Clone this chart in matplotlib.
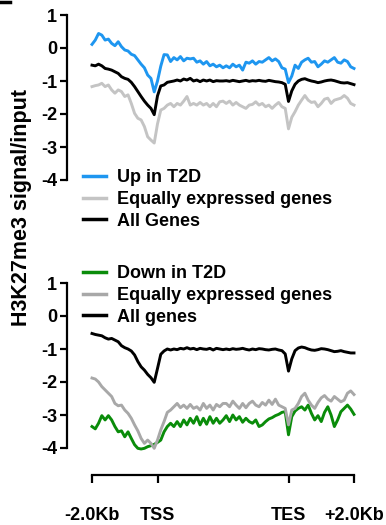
import numpy as np
import matplotlib
matplotlib.use('Agg')
import matplotlib.pyplot as plt
from matplotlib.lines import Line2D

plt.rcParams['font.family'] = ['Liberation Sans', 'DejaVu Sans']
plt.rcParams['font.weight'] = 'bold'

# metagene profile: 2kb upstream, scaled gene body, 2kb downstream
pos = np.linspace(0, 4, 81)
tick_pos = [0, 1, 3, 4]
tick_labels = ['-2.0Kb', 'TSS', 'TES', '+2.0Kb']
y_ticks = [-4, -3, -2, -1, 0, 1]

up_t2d = [0.11, 0.24, 0.44, 0.39, 0.24, 0.27, 0.14, 0.07, 0.19, 0.04,
          -0.06, -0.09, -0.19, -0.23, -0.36, -0.49, -0.60, -0.82, -0.92, -1.33,
          -1.00, -0.55, -0.20, -0.21, -0.41, -0.29, -0.36, -0.26, -0.39, -0.31,
          -0.33, -0.31, -0.43, -0.39, -0.49, -0.41, -0.54, -0.49, -0.57, -0.52,
          -0.60, -0.54, -0.60, -0.49, -0.57, -0.52, -0.67, -0.43, -0.46, -0.39,
          -0.49, -0.41, -0.43, -0.36, -0.29, -0.39, -0.33, -0.41, -0.60, -0.64,
          -1.05, -0.85, -0.52, -0.62, -0.43, -0.36, -0.31, -0.43, -0.41, -0.57,
          -0.49, -0.39, -0.43, -0.36, -0.29, -0.43, -0.46, -0.36, -0.41, -0.57,
          -0.62]
equal_up = [-1.17, -1.14, -1.12, -1.07, -1.17, -1.12, -1.27, -1.37, -1.27, -1.32,
            -1.47, -1.42, -1.68, -1.98, -2.13, -2.18, -2.38, -2.69, -2.79, -2.88,
            -2.30, -1.88, -1.83, -1.73, -1.68, -1.78, -1.68, -1.73, -1.61, -1.47,
            -1.73, -1.68, -1.73, -1.65, -1.73, -1.68, -1.78, -1.68, -1.78, -1.63,
            -1.61, -1.68, -1.61, -1.73, -1.65, -1.73, -1.78, -1.83, -1.73, -1.71,
            -1.63, -1.73, -1.68, -1.78, -1.73, -1.83, -1.73, -1.65, -1.78, -1.83,
            -2.45, -2.10, -1.93, -1.73, -1.58, -1.44, -1.58, -1.65, -1.63, -1.78,
            -1.68, -1.55, -1.52, -1.68, -1.58, -1.55, -1.52, -1.44, -1.52, -1.68,
            -1.73]
all_up = [-0.52, -0.54, -0.49, -0.54, -0.62, -0.64, -0.67, -0.72, -0.77, -0.87,
          -0.92, -0.95, -1.04, -1.17, -1.32, -1.47, -1.61, -1.73, -1.83, -2.02,
          -1.45, -1.15, -1.12, -1.04, -1.02, -1.00, -0.97, -1.00, -0.94, -0.97,
          -0.92, -1.00, -0.97, -1.02, -0.97, -1.00, -0.97, -1.02, -0.99, -1.00,
          -1.00, -0.99, -1.01, -0.98, -1.00, -1.02, -1.00, -0.98, -1.01, -0.99,
          -1.00, -0.98, -1.00, -1.01, -0.98, -1.00, -1.02, -1.03, -1.05, -1.10,
          -1.62, -1.30, -1.10, -1.00, -0.95, -0.93, -0.97, -1.00, -1.02, -1.05,
          -1.03, -1.00, -0.98, -0.97, -0.99, -1.02, -1.05, -1.06, -1.05, -1.08,
          -1.11]

down_t2d = [-3.35, -3.42, -3.25, -3.02, -3.15, -3.02, -3.15, -3.35, -3.51, -3.48,
            -3.66, -3.51, -3.71, -3.90, -4.01, -4.03, -4.01, -3.96, -3.93, -3.89,
            -3.83, -3.76, -3.51, -3.35, -3.25, -3.35, -3.20, -3.35, -3.15, -3.30,
            -3.10, -3.25, -3.05, -3.30, -3.10, -3.28, -3.05, -3.25, -3.10, -3.25,
            -3.15, -3.02, -3.20, -3.00, -3.15, -3.05, -3.22, -3.10, -3.20, -3.25,
            -3.15, -3.35, -3.30, -3.20, -3.12, -3.08, -3.02, -2.98, -2.92, -2.90,
            -3.60, -3.05, -2.88, -2.80, -2.75, -2.85, -2.70, -2.95, -3.15, -3.02,
            -3.20, -2.92, -2.75, -3.00, -3.35, -3.15, -2.90, -2.80, -2.70, -2.82,
            -2.98]
equal_down = [-1.88, -1.91, -2.00, -2.14, -2.24, -2.34, -2.44, -2.65, -2.72, -2.70,
              -2.85, -2.95, -3.10, -3.30, -3.48, -3.71, -3.86, -3.76, -3.86, -4.01,
              -3.76, -3.45, -3.20, -2.92, -2.85, -2.75, -2.65, -2.78, -2.70, -2.80,
              -2.68, -2.80, -2.75, -2.85, -2.65, -2.80, -2.70, -2.85, -2.68, -2.75,
              -2.65, -2.65, -2.75, -2.58, -2.70, -2.80, -2.65, -2.78, -2.65, -2.58,
              -2.70, -2.75, -2.62, -2.70, -2.55, -2.68, -2.52, -2.70, -2.75, -2.80,
              -3.30, -2.85, -2.80, -2.65, -2.44, -2.34, -2.55, -2.70, -2.80, -2.62,
              -2.48, -2.41, -2.52, -2.58, -2.44, -2.52, -2.60, -2.55, -2.34, -2.27,
              -2.38]
all_down = [-0.53, -0.56, -0.58, -0.60, -0.66, -0.70, -0.68, -0.73, -0.78, -0.90,
            -0.96, -1.00, -1.06, -1.18, -1.38, -1.54, -1.64, -1.77, -1.87, -2.01,
            -1.59, -1.16, -1.06, -1.00, -1.03, -1.00, -1.02, -0.98, -1.00, -0.96,
            -1.00, -0.98, -1.02, -0.98, -1.00, -1.01, -0.98, -1.03, -0.98, -1.00,
            -1.02, -1.00, -1.02, -0.99, -1.01, -1.00, -0.98, -1.01, -1.03, -1.00,
            -1.02, -0.99, -1.00, -1.02, -1.03, -1.01, -1.00, -1.03, -1.05, -1.15,
            -1.67, -1.30, -1.05, -0.97, -0.94, -0.96, -1.00, -1.03, -1.04, -1.02,
            -0.99, -1.00, -1.02, -1.05, -1.08, -1.07, -1.05, -1.08, -1.10, -1.12,
            -1.12]

W, H = 386, 525
fig = plt.figure(figsize=(W / 100, H / 100), dpi=100)

x0 = -25 / 65.5
ax_top = fig.add_axes([67 / W, 1 - 180 / H, 287 / W, 165 / H])
ax_bot = fig.add_axes([67 / W, 1 - 475 / H, 287 / W, 192 / H])

lw = 2.1
ax_top.plot(pos, up_t2d, color='#1E96F0', lw=lw, clip_on=False, label='Up in T2D')
ax_top.plot(pos, equal_up, color='#C4C4C4', lw=lw, clip_on=False, label='Equally expressed genes')
ax_top.plot(pos, all_up, color='black', lw=lw, clip_on=False, label='All Genes')

ax_bot.plot(pos, down_t2d, color='#0A8C0A', lw=lw, clip_on=False, label='Down in T2D')
ax_bot.plot(pos, equal_down, color='#A8A8A8', lw=lw, clip_on=False, label='Equally expressed genes')
ax_bot.plot(pos, all_down, color='black', lw=lw, clip_on=False, label='All genes')

for ax in (ax_top, ax_bot):
    ax.set_xlim(x0, 4)
    ax.set_yticks(y_ticks)
    ax.set_yticklabels([str(v) for v in y_ticks])
    ax.spines['right'].set_visible(False)
    ax.spines['top'].set_visible(False)
    ax.spines['left'].set_linewidth(1.6)
    ax.spines['left'].set_bounds(-4, 1)
    ax.tick_params(axis='y', length=5, width=1.6, pad=2, labelsize=13)
    ax.patch.set_visible(False)

ax_top.set_ylim(-4, 1)
ax_top.spines['bottom'].set_visible(False)
ax_top.set_xticks([])

ax_bot.set_ylim(-4 - 27 / 33, 1)
ax_bot.spines['bottom'].set_linewidth(1.6)
ax_bot.spines['bottom'].set_bounds(0, 4)
ax_bot.set_xticks(tick_pos)
ax_bot.set_xticklabels(tick_labels)
ax_bot.tick_params(axis='x', length=6, width=1.6, pad=17, labelsize=13)

leg_kw = dict(frameon=False, fontsize=13, handlelength=1.3, handletextpad=0.6,
              labelspacing=0.27, borderpad=0, borderaxespad=0, loc='upper left')
lt = fig.legend(handles=ax_top.get_lines(), bbox_to_anchor=(83 / W, 1 - 169 / H),
                bbox_transform=fig.transFigure, **leg_kw)
lb = fig.legend(handles=ax_bot.get_lines(), bbox_to_anchor=(83 / W, 1 - 265 / H),
                bbox_transform=fig.transFigure, **leg_kw)
for leg in (lt, lb):
    for ln in leg.get_lines():
        ln.set_linewidth(2.5)

fig.text(22 / W, 1 - 207 / H, 'H3K27me3 signal/input', rotation=90,
         ha='center', va='center', fontsize=15.5)

# leftover edge of the neighbouring panel letter
fig.add_artist(Line2D([0, 10 / W], [1 - 2 / H, 1 - 2 / H], lw=2.5, color='black'))

fig.savefig('out.png', dpi=100)
